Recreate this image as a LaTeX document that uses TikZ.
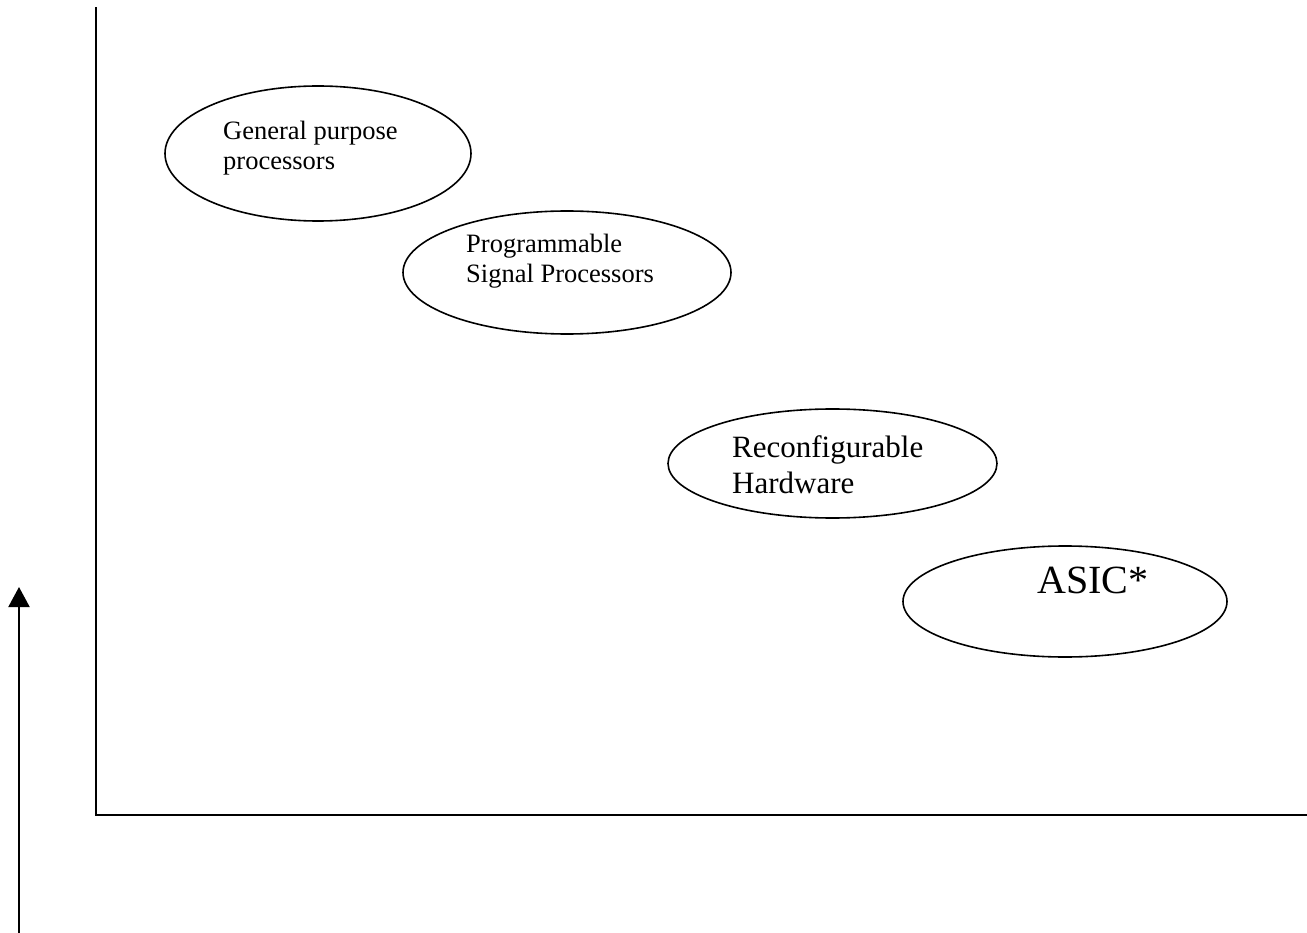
\documentclass[tikz,border=0pt]{standalone}
\usepackage{fontspec}
\setmainfont{Liberation Serif}
\usetikzlibrary{shapes.geometric,arrows.meta}
\begin{document}
\begin{tikzpicture}[x=1pt,y=-1pt,
  axis/.style={line width=2pt,line cap=rect},
  bubble/.style={draw,ellipse,line width=1.6pt,inner sep=0pt},
  smalllabel/.style={anchor=base west,align=left,inner sep=0pt,
    font=\fontsize{26.5}{30}\selectfont},
  midlabel/.style={anchor=base west,align=left,inner sep=0pt,
    font=\fontsize{31}{36}\selectfont},
  biglabel/.style={anchor=base west,inner sep=0pt,
    font=\fontsize{40}{46}\selectfont}]
  \useasboundingbox (0,0) rectangle (1307,933);

  % axes
  \coordinate (top) at (96,8);
  \coordinate (origin) at (96,815);
  \coordinate (right) at (1306,815);
  \draw[axis] (top) -- (origin) -- (right);

  % separate upward arrow
  \coordinate (abot) at (19,933);
  \coordinate (atop) at (19,587);
  \draw[line width=2pt,-{Triangle[length=20pt,width=21pt]}] (abot) -- (atop);

  % ellipses
  \node[bubble,minimum width=306pt,minimum height=135pt] (gpp) at (318,153.5) {};
  \node[bubble,minimum width=328pt,minimum height=123pt] (psp) at (567,272.5) {};
  \node[bubble,minimum width=329pt,minimum height=109pt] (rh) at (832.5,463.5) {};
  \node[bubble,minimum width=324pt,minimum height=111pt] (asic) at (1065,601.5) {};

  % labels (base anchor sits on the last line)
  \node[smalllabel] (gpptext) at (223,170) {General purpose\\processors};
  \node[smalllabel] (psptext) at (466,283) {Programmable\\Signal Processors};
  \node[midlabel] (rhtext) at (732,493) {Reconfigurable\\Hardware};
  \node[biglabel] (asictext) at (1037,593) {ASIC*};
\end{tikzpicture}
\end{document}
